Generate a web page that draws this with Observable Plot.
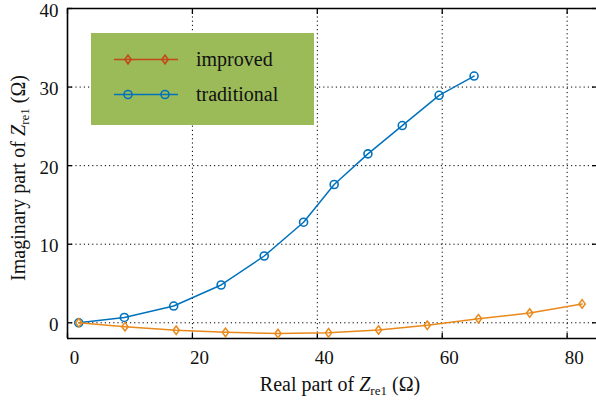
<!DOCTYPE html>
<html>
<head>
<meta charset="utf-8">
<script src="https://cdn.jsdelivr.net/npm/d3@7"></script>
<script src="https://cdn.jsdelivr.net/npm/@observablehq/plot@0.6"></script>
<style>
  body { margin: 0; background: #fff; }
  #chart { position: relative; width: 596px; height: 400px; }
  #chart svg { overflow: visible; }
  #chart svg text, #chart svg tspan { font-family: "Liberation Serif", "Times New Roman", serif !important; }
</style>
</head>
<body>
<div id="chart"></div>
<script>
// Impedance locus of Z_re1: real vs imaginary part (Ω)
const seriesNames = ["improved", "traditional"];
const improvedRe = [1.8, 9.2, 17.4, 25.3, 33.7, 41.8, 49.8, 57.6, 65.8, 74.0, 82.4];
const improvedIm = [0, -0.5, -0.95, -1.22, -1.37, -1.28, -0.92, -0.32, 0.52, 1.24, 2.4];
const traditionalRe = [1.8, 9.1, 17.0, 24.6, 31.5, 37.8, 42.7, 48.1, 53.6, 59.5, 65.1];
const traditionalIm = [0, 0.68, 2.13, 4.81, 8.5, 12.8, 17.6, 21.5, 25.1, 28.95, 31.4];
const xTicks = [0, 20, 40, 60, 80];
const yTicks = [0, 10, 20, 30, 40];

const improved = improvedRe.map((re, i) => ({re, im: improvedIm[i]}));
const traditional = traditionalRe.map((re, i) => ({re, im: traditionalIm[i]}));

const blue = "#0072BD";
const orange = "#E9891B";
const orangeLegend = "#C2491A";
const serif = "'Liberation Serif', 'Times New Roman', serif";

// tall, narrow diamond marker
const tallDiamond = {
  draw(ctx, size) {
    const h = Math.sqrt(size / Math.PI);
    ctx.moveTo(0, -h * 1.1);
    ctx.lineTo(h * 0.8, 0);
    ctx.lineTo(0, h * 1.1);
    ctx.lineTo(-h * 0.8, 0);
    ctx.closePath();
  }
};

const grid = {stroke: "#000", strokeOpacity: 1, strokeWidth: 1, strokeDasharray: "1.2,3"};
// short inward ticks on all four sides
const tk = 5;
const tickOnly = {tickFormat: () => "", label: null, tickSize: tk, strokeWidth: 1.3};

const plot = Plot.plot({
  width: 596,
  height: 400,
  marginLeft: 67,
  marginRight: 0,
  marginTop: 8,
  marginBottom: 62,
  style: {fontFamily: serif, background: "transparent"},
  x: {domain: [0, 84.7]},
  y: {domain: [-2, 40]},
  marks: [
    Plot.gridX(xTicks, grid),
    Plot.gridY(yTicks, grid),
    Plot.axisX(xTicks, {tickSize: 0, tickPadding: 12, dx: 7, fontSize: 19, label: null, fill: "#111"}),
    Plot.axisY(yTicks, {tickSize: 0, tickPadding: 9, dy: 2, fontSize: 19, label: null, fill: "#111"}),
    Plot.axisX(xTicks, {anchor: "bottom", dy: -tk, ...tickOnly}),
    Plot.axisX(xTicks, {anchor: "top", dy: tk, ...tickOnly}),
    Plot.axisY(yTicks, {anchor: "left", dx: tk, ...tickOnly}),
    Plot.axisY(yTicks, {anchor: "right", dx: -tk, ...tickOnly}),
    Plot.ruleX([0], {stroke: "#000", strokeWidth: 1.6}),
    Plot.ruleY([-2, 40], {stroke: "#000", strokeWidth: 1.6}),
    Plot.line(traditional, {x: "re", y: "im", stroke: blue, strokeWidth: 1.5}),
    Plot.dot(traditional, {x: "re", y: "im", r: 4, stroke: blue, strokeWidth: 1.6, fill: "none"}),
    Plot.line(improved, {x: "re", y: "im", stroke: orange, strokeWidth: 1.5}),
    Plot.dot(improved, {x: "re", y: "im", r: 3.9, symbol: tallDiamond, stroke: orange, strokeWidth: 1.5, fill: "none"})
  ]
});

const svg = d3.select(plot);

// axis titles with italic Z and subscript
function axisTitle(g, text) {
  const t = g.append("text")
    .attr("font-family", serif)
    .attr("font-size", 20)
    .attr("fill", "#111")
    .attr("text-anchor", "middle");
  t.append("tspan").text(text + " ");
  t.append("tspan").attr("font-style", "italic").text("Z");
  t.append("tspan").attr("font-size", 13).attr("dy", 4).text("re1");
  t.append("tspan").attr("dy", -4).text(" (Ω)");
  return t;
}
axisTitle(svg.append("g").attr("transform", "translate(340,391)"), "Real part of");
axisTitle(svg.append("g").attr("transform", "translate(25,178) rotate(-90)"), "Imaginary part of");

// legend box
const lg = svg.append("g");
lg.append("rect").attr("x", 91).attr("y", 33).attr("width", 223).attr("height", 92).attr("fill", "#9BBB59");
const legendItems = [
  {name: seriesNames[0], color: orangeLegend, symbol: tallDiamond, r: 3.9, y: 59.5},
  {name: seriesNames[1], color: blue, symbol: d3.symbolCircle, r: 4, y: 94.5}
];
for (const it of legendItems) {
  lg.append("line").attr("x1", 114).attr("x2", 178).attr("y1", it.y).attr("y2", it.y)
    .attr("stroke", it.color).attr("stroke-width", 1.5);
  for (const mx of [128, 165]) {
    lg.append("path")
      .attr("transform", `translate(${mx},${it.y})`)
      .attr("d", d3.symbol(it.symbol, Math.PI * it.r * it.r)())
      .attr("fill", "none").attr("stroke", it.color).attr("stroke-width", 1.6);
  }
  lg.append("text").attr("x", 196).attr("y", it.y + 6)
    .attr("text-anchor", "start")
    .attr("font-family", serif).attr("font-size", 20).attr("fill", "#111").text(it.name);
}

document.getElementById("chart").appendChild(plot);
</script>
</body>
</html>
